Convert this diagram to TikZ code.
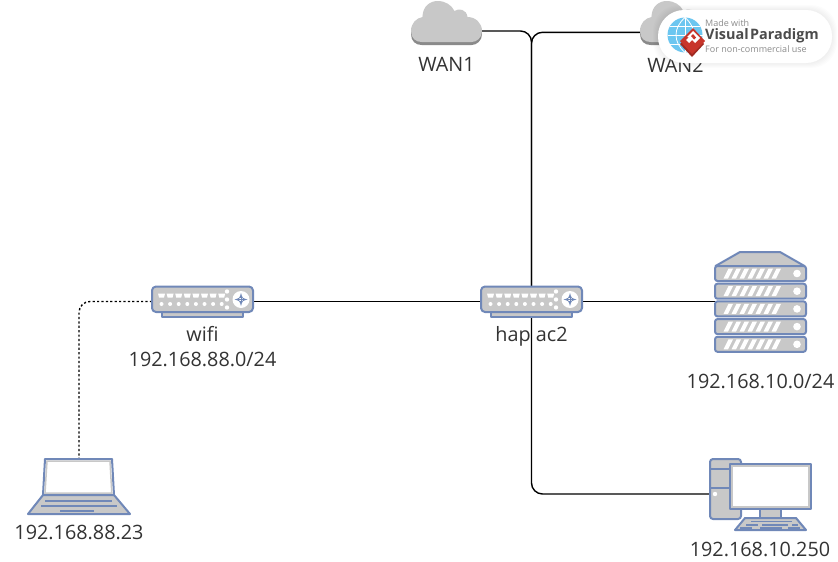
\documentclass[tikz,border=0pt]{standalone}
\usepackage{fontspec}
\setmainfont{Open Sans}
\usetikzlibrary{positioning}
\definecolor{iconblue}{HTML}{7088B8}
\definecolor{icongray}{HTML}{C8C8C8}
\definecolor{clouddark}{HTML}{8A8A8A}
\definecolor{badgered}{HTML}{C8352B}
\definecolor{globeblue}{HTML}{6CC6F0}
\newcommand{\cloudpath}{(-35.5,0) .. controls (-35.5,-8) and (-30,-13) .. (-24,-14)
    .. controls (-24,-25) and (-16,-30) .. (-9,-30)
    .. controls (-1,-30) and (5,-26) .. (8,-20)
    .. controls (12,-23) and (20,-22) .. (21,-14)
    .. controls (29,-14) and (35.5,-8) .. (35.5,0)
    .. controls (35.5,7) and (30,11) .. (25,11)
    -- (-25,11) .. controls (-31,11) and (-35.5,7) .. (-35.5,0) -- cycle}
\tikzset{
    device/.style={minimum width=#1, inner sep=0pt, outer sep=0pt},
    netlabel/.style={align=center, inner sep=0pt, font=\fontsize{19.8}{25}\selectfont, text=black!80},
    link/.style={draw=black, line width=1.4pt, rounded corners=11pt},
    wifilink/.style={link, dash pattern=on 2.2pt off 2.2pt},
    icon/.style={draw=iconblue, line width=2pt, fill=icongray, line join=round},
    keyline/.style={draw=iconblue, line width=2pt},
    pics/router/.style={code={
        \draw[icon] (-40.5,10.5) rectangle (40.5,15.5);
        \draw[icon, rounded corners=4pt] (-50.5,-15) rectangle (50.5,10.5);
        \foreach \i in {0,...,7} {
            \fill[white] (-44.5+\i*8.6,-8) -- (-37.5+\i*8.6,-8) -- (-38.5+\i*8.6,-4) -- (-43.5+\i*8.6,-4) -- cycle;
            \fill[white] (-41+\i*8.6,2.5) circle (2);
        }
        \foreach \j in {-10,-2,6} \fill[white] (24.5,\j) circle (2.2);
        \fill[white] (38.5,-2) circle (8.5);
        \draw[iconblue, line width=.7pt, <->, >=latex] (38.5,-8.5) -- (38.5,4.5);
        \draw[iconblue, line width=.7pt, <->, >=latex] (32,-2) -- (45,-2);
    }},
    pics/cloud/.style={code={
        \fill[clouddark, yshift=-3pt] \cloudpath;
        \fill[icongray] \cloudpath;
    }},
    pics/server/.style={code={
        \draw[icon] (-20.5,-49.5) -- (19.5,-49.5) -- (44,-35.5) -- (-45,-35.5) -- cycle;
        \foreach \k in {0,...,4} {
            \begin{scope}[yshift={\k*(-17.7pt)}]
                \draw[icon, rounded corners=2.5pt] (-45.5,-35.5) rectangle (45.5,-20.5);
                \foreach \m in {0,...,6}
                    \fill[white] (-37+\m*8,-23) -- (-32.5+\m*8,-23) -- (-27.5+\m*8,-33) -- (-32+\m*8,-33) -- cycle;
                \fill[white] (36.5,-28) circle (3.8);
            \end{scope}
        }
    }},
    pics/pc/.style={code={
        \draw[icon, rounded corners=3pt] (-50,-35) rectangle (-19,25);
        \draw[iconblue, line width=2pt] (-50,-25) -- (-19,-25) (-50,-6) -- (-19,-6);
        \fill[white] (-45,0) circle (2.2);
        \draw[icon] (0,15) rectangle (21,25);
        \draw[icon, fill=white] (-30,-30) rectangle (51,15);
        \draw[icongray, line width=1.5pt] (-28,-28) rectangle (49,13);
        \draw[icon] (-15,24) -- (36,24) -- (46,36) -- (-25,36) -- cycle;
        \draw[iconblue, line width=1.5pt] (-9,27.5) -- (32,27.5) (-14,31) -- (-2,31) (2,31) -- (28,31) (32,31) -- (38,31) (-20,34) -- (-8,34) (0,34) -- (22,34) (28,34) -- (40,34);
    }},
    pics/laptop/.style={code={
        \draw[icon, fill=white] (-34,-27.5) -- (33,-27.5) -- (35,8.5) -- (-36,8.5) -- cycle;
        \draw[icongray, line width=1.5pt] (-32,-25.5) -- (31,-25.5) -- (32.8,6.5) -- (-34,6.5) -- cycle;
        \draw[icon] (-36,8.5) -- (35,8.5) -- (51,27.5) -- (-51,27.5) -- cycle;
        \draw[keyline] (-34,14.5) -- (33,14.5) (-38,19.5) -- (38,19.5) (-19,24) -- (15,24);
    }}
}
\begin{document}
\begin{tikzpicture}[x=1pt, y=-1pt]
    \useasboundingbox (0,0) rectangle (838,562);
    % devices
    \node[device=71pt, minimum height=30pt] (wan1) at (446.5,31) {};
    \node[device=71pt, minimum height=30pt] (wan2) at (675.5,32.3) {};
    \node[device=101pt, minimum height=31pt] (wifi) at (202.5,301.5) {};
    \node[device=101pt, minimum height=31pt] (hap) at (531.5,301.5) {};
    \node[device=91pt, minimum height=100pt] (server) at (760.5,301.5) {};
    \node[device=101pt, minimum height=72pt] (pc) at (760,494) {};
    \node[device=102pt, minimum height=55pt] (laptop) at (79,486.5) {};
    % connectors
    \draw[link] (wan1.east) -| (hap.north);
    \draw[link] (wan2.west) -| (hap.north);
    \draw[link] (wifi.east) -- (hap.west);
    \draw[link] (hap.east) -- (server.west);
    \draw[link] (hap.south) |- (pc.west);
    \draw[wifilink] (wifi.west) -| (laptop.north);
    % icons
    \pic at (446.5,31) {cloud};
    \pic at (675.5,31) {cloud};
    \pic at (wifi) {router};
    \pic at (hap) {router};
    \pic at (server) {server};
    \pic at (pc) {pc};
    \pic at (laptop) {laptop};
    % labels
    \node[netlabel, below=11pt of wan1] (wan1label) {WAN1};
    \node[netlabel, below=11pt of wan2] (wan2label) {WAN2};
    \node[netlabel, below=9pt of wifi] (wifilabel) {wifi\\192.168.88.0/24};
    \node[netlabel, below=9pt of hap] (haplabel) {hap ac2};
    \node[netlabel, below=22pt of server] (serverlabel) {192.168.10.0/24};
    \node[netlabel, below=12pt of pc] (pclabel) {192.168.10.250};
    \node[netlabel, below=11pt of laptop] (laptoplabel) {192.168.88.23};
    % badge
    \foreach \s in {5,4,3,2,1}
        \fill[black, opacity=.012, rounded corners=26pt] (658-\s,10-\s) rectangle (832+\s,63+\s);
    \node[fill=white, rounded corners=26pt, minimum width=174pt, minimum height=53pt, inner sep=0pt] (badge) at (745,36.5) {};
    \fill[globeblue] (685,35) circle (17.5);
    \draw[white, line width=.8pt] (685,17.5) -- (685,52.5) (667.5,35) -- (702.5,35) (670,26) -- (700,26) (670,44) -- (700,44);
    \draw[white, line width=.8pt] (685,17.5) .. controls (673,28) and (673,42) .. (685,52.5) .. controls (697,42) and (697,28) .. (685,17.5);
    \fill[badgered!80!black] (680,44) -- (692,32) -- (704,44) -- (692,57) -- cycle;
    \fill[badgered] (680,41) -- (693,28) -- (705,41) -- (692,54) -- cycle;
    \fill[white] (687,37) -- (693,31) -- (700,38) -- (695,43) -- (692,40) -- (689,43) -- (686,40) -- (689,37) -- cycle;
    \fill[badgered] (691,36) -- (693,34) -- (696,37.5) -- (694,39.5) -- cycle;
    \node[anchor=west, inner sep=0pt, font=\fontsize{9}{11}\selectfont, text=black!45] (badgetop) at (705,23) {Made with};
    \node[anchor=west, inner sep=0pt, font=\fontsize{14.4}{16}\bfseries\selectfont, text=black!70] (badgename) at (705,36) {Visual\kern1.5pt Paradigm};
    \node[anchor=west, inner sep=0pt, font=\fontsize{9}{11}\selectfont, text=black!45] (badgebottom) at (705,49) {For non-commercial use};
\end{tikzpicture}
\end{document}
